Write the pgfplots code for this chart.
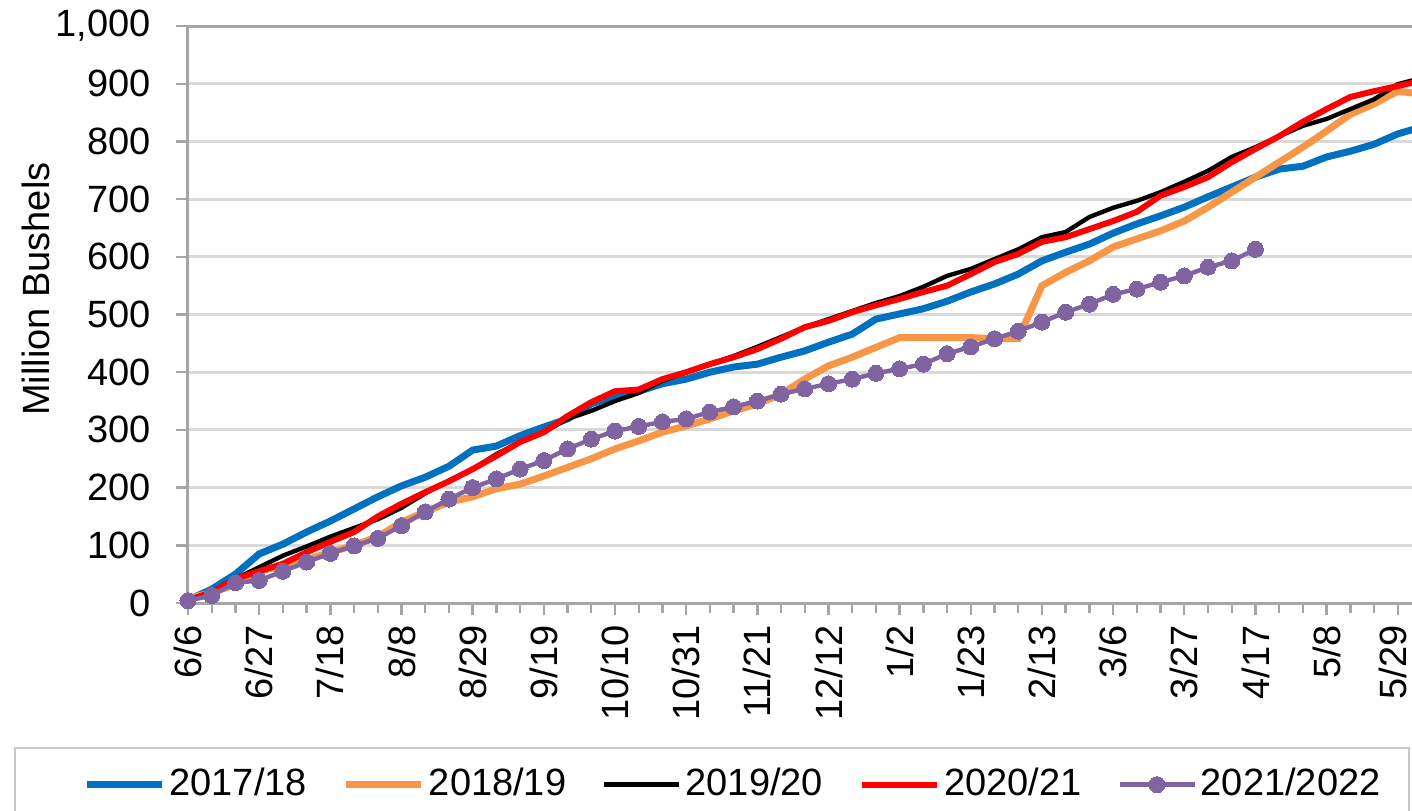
\documentclass[border=0pt]{standalone}
\usepackage{fontspec}
\setmainfont{Liberation Sans}
\usepackage{pgfplots}
\usepackage{pgfplotstable}
\pgfplotsset{compat=1.18}
\definecolor{c1}{RGB}{0,112,192}
\definecolor{c2}{RGB}{247,150,70}
\definecolor{c4}{RGB}{255,0,0}
\definecolor{c5}{RGB}{128,100,162}
\definecolor{gridc}{RGB}{217,217,217}
\definecolor{axc}{RGB}{166,166,166}
\definecolor{legc}{RGB}{200,200,200}
\pgfplotsset{firstleg/.style={legend image code/.code={\path (-22pt,0pt); \draw[##1] (0pt,0pt) -- (37.5pt,0pt);}}}

\pgfplotstableread{
i a b c d
0 5 8 5 5
1 24 18 20 18
2 50 32 42 42
3 85 55 62 55
4 102 65 82 68
5 123 75 98 88
6 142 88 115 106
7 163 100 130 123
8 184 115 145 150
9 203 140 165 172
10 218 158 190 192
11 237 175 212 211
12 265 184 232 232
13 272 198 258 255
14 290 206 279 279
15 305 220 296 296
16 319 235 319 324
17 345 250 333 348
18 359 267 350 367
19 367 281 364 370
20 380 296 385 388
21 388 307 400 400
22 400 319 414 414
23 409 333 428 426
24 414 345 444 440
25 426 362 461 458
26 437 388 478 478
27 452 411 492 489
28 466 426 506 504
29 492 443 520 516
30 501 460 532 527
31 510 460 548 539
32 523 460 567 550
33 539 460 579 570
34 553 458 596 591
35 570 458 613 605
36 593 550 634 626
37 608 573 643 634
38 622 593 669 648
39 641 617 685 662
40 657 631 697 678
41 671 645 712 706
42 686 662 730 721
43 704 686 749 738
44 721 712 773 764
45 738 738 790 787
46 752 764 809 809
47 757 790 827 834
48 773 818 839 856
49 783 847 856 877
50 795 865 873 887
51 813 887 899 896
52 825 882 910 905
}\maintable

\pgfplotstableread{
i e
0 4
1 13
2 35
3 39
4 55
5 71
6 86
7 99
8 112
9 134
10 158
11 180
12 200
13 215
14 232
15 247
16 267
17 284
18 298
19 306
20 314
21 319
22 331
23 340
24 350
25 362
26 371
27 380
28 388
29 398
30 406
31 414
32 432
33 444
34 458
35 471
36 487
37 504
38 518
39 535
40 544
41 556
42 567
43 582
44 593
45 613
}\purpletable

\begin{document}
\fontsize{19}{22.8}\selectfont
\begin{tikzpicture}
\begin{axis}[
  at={(0,0)}, anchor=south west,
  scale only axis, width=612pt, height=288.5pt,
  xmin=0, xmax=51.6, ymin=0, ymax=1000,
  axis x line*=bottom, axis y line*=left,
  axis line style={axc, line width=1.5pt, -},
  xtick={0,3,...,51},
  xticklabels={6/6,6/27,7/18,8/8,8/29,9/19,10/10,10/31,11/21,12/12,1/2,1/23,2/13,3/6,3/27,4/17,5/8,{\raisebox{2.5pt}[\height][\depth]{5/29}}},
  minor xtick={0,1,...,51},
  ytick={0,100,...,900},
  extra y ticks={1000},
  extra y tick style={grid style={axc, line width=1.5pt}},
  ymajorgrids,
  grid style={gridc, line width=1.5pt},
  tick align=outside,
  major tick length=6pt, minor tick length=5pt,
  tick style={axc, line width=1.2pt},
  yticklabel style={xshift=-6pt, /pgf/number format/.cd, 1000 sep={,}, assume math mode=true},
  xticklabel style={rotate=90, anchor=east, inner sep=5pt},
  every axis y label/.style={at={(axis description cs:-0.1242,0.544)}, rotate=90, anchor=center},
  ylabel={Million Bushels},
  clip mode=individual,
  legend image code/.code={\draw[mark repeat=2,mark phase=2,#1] plot coordinates {(0pt,0pt) (18.75pt,0pt) (37.5pt,0pt)};},
  legend style={at={(rel axis cs:0.4281,-0.2496)}, anchor=north,
    legend columns=5, draw=legc, line width=1pt,
    inner xsep=12.5pt, inner ysep=8pt,
    cells={inner xsep=0pt, inner ysep=1pt, anchor=west},
    /tikz/every even column/.append style={column sep=16pt}},
]
\addplot[c1, line width=3.5pt, no markers, firstleg] table[x=i, y=a] {\maintable};
\addlegendentry{2017/18}
\addplot[c2, line width=3.5pt, no markers] table[x=i, y=b] {\maintable};
\addlegendentry{2018/19}
\addplot[black, line width=2.2pt, no markers] table[x=i, y=c] {\maintable};
\addlegendentry{2019/20}
\addplot[c4, line width=3pt, no markers] table[x=i, y=d] {\maintable};
\addlegendentry{2020/21}
\addplot[c5, line width=2.2pt, mark=*, mark size=4pt, mark options={solid, fill=c5, draw=c5, line width=0pt}] table[x=i, y=e] {\purpletable};
\addlegendentry{2021/2022}
\end{axis}
\pgfresetboundingbox
\path[use as bounding box] (-94pt,-103.5pt) rectangle (612pt,301.5pt);
\end{tikzpicture}
\end{document}
